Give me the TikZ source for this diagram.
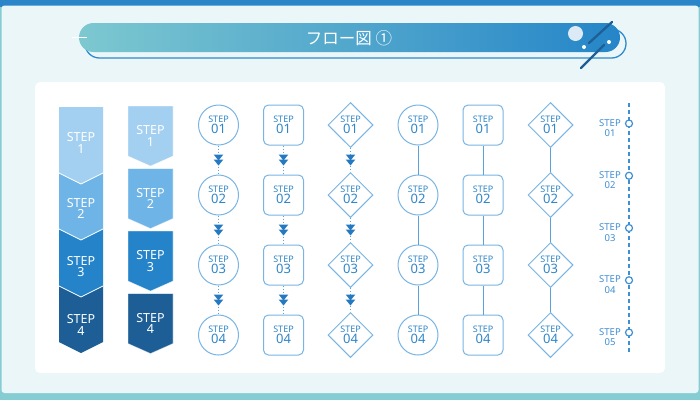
\documentclass[tikz,border=0pt]{standalone}
\usepackage{fontspec}
\setmainfont{Noto Sans}
\newfontfamily\jpfont{Noto Sans CJK JP}
\usetikzlibrary{shapes.geometric,decorations.markings}
\definecolor{bgpale}{HTML}{EAF6F8}
\definecolor{tealband}{HTML}{86CDD3}
\definecolor{topblue}{HTML}{2A86C9}
\definecolor{pillL}{HTML}{7DC8D0}
\definecolor{pillR}{HTML}{2585C8}
\definecolor{shadowline}{HTML}{2E8ACB}
\definecolor{decocircle}{HTML}{DCEAF6}
\definecolor{decoline}{HTML}{1E5F96}
\definecolor{cA}{HTML}{A3CFF0}
\definecolor{cB}{HTML}{6FB4E7}
\definecolor{cC}{HTML}{2584C9}
\definecolor{cD}{HTML}{1C5E95}
\definecolor{nodeline}{HTML}{78B4E4}
\definecolor{nodetext}{HTML}{2F86C8}
\definecolor{connline}{HTML}{5AA2DC}
\definecolor{arrowblue}{HTML}{2479C0}
\definecolor{tlcolor}{HTML}{3F8FD3}
\newcommand\stp[1]{{\fontsize{9}{10}\selectfont\bfseries STEP}\\[-1pt]{\fontsize{13}{13}\selectfont #1}}
\newcommand\chev[1]{STEP\\#1}
\tikzset{
  stepbase/.style={draw=nodeline, line width=1pt, inner sep=0pt, fill=white, align=center, text=nodetext},
  stepc/.style={stepbase, circle, minimum size=40pt},
  stepr/.style={stepbase, rectangle, rounded corners=5pt, minimum width=40pt, minimum height=40pt},
  stepd/.style={stepbase, diamond, minimum width=45pt, minimum height=45pt},
  dotconn/.style={draw=connline, dotted, line width=1pt, postaction={decorate},
    decoration={markings, mark=at position 0.5 with {
      \fill[arrowblue] (-5.5pt,-4.8pt) -- (0.5pt,0pt) -- (-5.5pt,4.8pt) -- cycle;
      \fill[arrowblue] (-0.5pt,-4.8pt) -- (5.5pt,0pt) -- (-0.5pt,4.8pt) -- cycle;}}},
  solidconn/.style={draw=connline, line width=1pt},
  chevtext/.style={text=white, align=center, font=\fontsize{12.5}{11.5}\selectfont, inner sep=0pt},
  tldot/.style={circle, draw=tlcolor, fill=white, line width=1.2pt, minimum size=7pt, inner sep=0pt},
  tllabel/.style={text=tlcolor, align=center, font=\fontsize{9.5}{10.5}\selectfont, inner sep=0pt},
}
\begin{document}
\begin{tikzpicture}[x=1pt,y=-1pt]
\useasboundingbox (0,0) rectangle (700,400);
% background
\fill[tealband] (0,0) rectangle (700,400);
\fill[topblue] (0,0) rectangle (700,6.5);
\fill[bgpale, rounded corners=3pt] (1.5,5.5) rectangle (698.5,393);
\fill[white, rounded corners=5pt] (35,82) rectangle (665,373);
% title banner
\draw[shadowline, line width=1.3pt, fill=bgpale, rounded corners=14.5pt] (85,29) rectangle (626,58);
\shade[left color=pillL, right color=pillR, rounded corners=14.5pt] (79,23) rectangle (620,52);
\draw[white, line width=1.5pt] (72,37.5) -- (87,37.5);
\node[text=white, font=\jpfont\fontsize{16.5}{16.5}\selectfont, inner sep=0pt] (title) at (349,38) {フロー図 ①};
\fill[decocircle] (575.5,33.5) circle (7.5);
\fill[white] (584,47) circle (2);
\fill[white] (609,42) circle (2);
\draw[decoline, line width=2.3pt, line cap=round] (612,22) -- (589,43);
\draw[decoline, line width=2.3pt, line cap=round] (604,45) -- (581,68);
% column 1: stacked chevrons
\fill[cD] (59,286) -- (103,286) -- (103,342) -- (81,353) -- (59,342) -- cycle;
\fill[cC] (59,229) -- (103,229) -- (103,286) -- (81,297) -- (59,286) -- cycle;
\fill[cB] (59,173) -- (103,173) -- (103,229) -- (81,240) -- (59,229) -- cycle;
\fill[cA] (59,107) -- (103,107) -- (103,173) -- (81,184) -- (59,173) -- cycle;
\draw[white, line width=0.8pt] (59,173) -- (81,184) -- (103,173);
\draw[white, line width=0.8pt] (59,229) -- (81,240) -- (103,229);
\draw[white, line width=0.8pt] (59,286) -- (81,297) -- (103,286);
\node[chevtext] (a1) at (81,143) {\chev{1}};
\node[chevtext] (a2) at (81,208.5) {\chev{2}};
\node[chevtext] (a3) at (81,266.5) {\chev{3}};
\node[chevtext] (a4) at (81,325) {\chev{4}};
% column 2: separate chevrons
\tikzset{sepchev/.style={draw=white, draw opacity=0.5, line width=0.6pt}}
\filldraw[cA, sepchev] (128,106) -- (173,106) -- (173,156) -- (150.5,166) -- (128,156) -- cycle;
\filldraw[cB, sepchev] (128,168.5) -- (173,168.5) -- (173,218.5) -- (150.5,228.5) -- (128,218.5) -- cycle;
\filldraw[cC, sepchev] (128,231) -- (173,231) -- (173,281) -- (150.5,291) -- (128,281) -- cycle;
\filldraw[cD, sepchev] (128,293.5) -- (173,293.5) -- (173,343.5) -- (150.5,353.5) -- (128,343.5) -- cycle;
\node[chevtext] (b1) at (150.5,136) {\chev{1}};
\node[chevtext] (b2) at (150.5,198.5) {\chev{2}};
\node[chevtext] (b3) at (150.5,261) {\chev{3}};
\node[chevtext] (b4) at (150.5,323.5) {\chev{4}};
% column 3: circles, dotted
\node[stepc] (c1) at (218.5,125) {\stp{01}};
\node[stepc] (c2) at (218.5,195) {\stp{02}};
\node[stepc] (c3) at (218.5,265) {\stp{03}};
\node[stepc] (c4) at (218.5,335) {\stp{04}};
\draw[dotconn] (c1) -- (c2);
\draw[dotconn] (c2) -- (c3);
\draw[dotconn] (c3) -- (c4);
% column 4: rounded squares, dotted
\node[stepr] (r1) at (283.5,125) {\stp{01}};
\node[stepr] (r2) at (283.5,195) {\stp{02}};
\node[stepr] (r3) at (283.5,265) {\stp{03}};
\node[stepr] (r4) at (283.5,335) {\stp{04}};
\draw[dotconn] (r1) -- (r2);
\draw[dotconn] (r2) -- (r3);
\draw[dotconn] (r3) -- (r4);
% column 5: diamonds, dotted
\node[stepd] (d1) at (350.5,125) {\stp{01}};
\node[stepd] (d2) at (350.5,195) {\stp{02}};
\node[stepd] (d3) at (350.5,265) {\stp{03}};
\node[stepd] (d4) at (350.5,335) {\stp{04}};
\draw[dotconn] (d1) -- (d2);
\draw[dotconn] (d2) -- (d3);
\draw[dotconn] (d3) -- (d4);
% column 6: circles, solid
\node[stepc] (e1) at (418,125) {\stp{01}};
\node[stepc] (e2) at (418,195) {\stp{02}};
\node[stepc] (e3) at (418,265) {\stp{03}};
\node[stepc] (e4) at (418,335) {\stp{04}};
\draw[solidconn] (e1) -- (e2);
\draw[solidconn] (e2) -- (e3);
\draw[solidconn] (e3) -- (e4);
% column 7: rounded squares, solid
\node[stepr] (f1) at (483,125) {\stp{01}};
\node[stepr] (f2) at (483,195) {\stp{02}};
\node[stepr] (f3) at (483,265) {\stp{03}};
\node[stepr] (f4) at (483,335) {\stp{04}};
\draw[solidconn] (f1) -- (f2);
\draw[solidconn] (f2) -- (f3);
\draw[solidconn] (f3) -- (f4);
% column 8: diamonds, solid
\node[stepd] (g1) at (550.5,125) {\stp{01}};
\node[stepd] (g2) at (550.5,195) {\stp{02}};
\node[stepd] (g3) at (550.5,265) {\stp{03}};
\node[stepd] (g4) at (550.5,335) {\stp{04}};
\draw[solidconn] (g1) -- (g2);
\draw[solidconn] (g2) -- (g3);
\draw[solidconn] (g3) -- (g4);
% column 9: timeline
\coordinate (tltop) at (629,103);
\coordinate (tlbot) at (629,353);
\draw[tlcolor, line width=1.2pt, dash pattern=on 4pt off 3pt] (tltop) -- (tlbot);
\node[tldot] (t1) at (629,123.5) {};
\node[tldot] (t2) at (629,175.75) {};
\node[tldot] (t3) at (629,228) {};
\node[tldot] (t4) at (629,280.25) {};
\node[tldot] (t5) at (629,332.5) {};
\node[tllabel] (l1) at (610,128) {STEP\\01};
\node[tllabel] (l2) at (610,180.25) {STEP\\02};
\node[tllabel] (l3) at (610,232.5) {STEP\\03};
\node[tllabel] (l4) at (610,284.75) {STEP\\04};
\node[tllabel] (l5) at (610,337) {STEP\\05};
\end{tikzpicture}
\end{document}
